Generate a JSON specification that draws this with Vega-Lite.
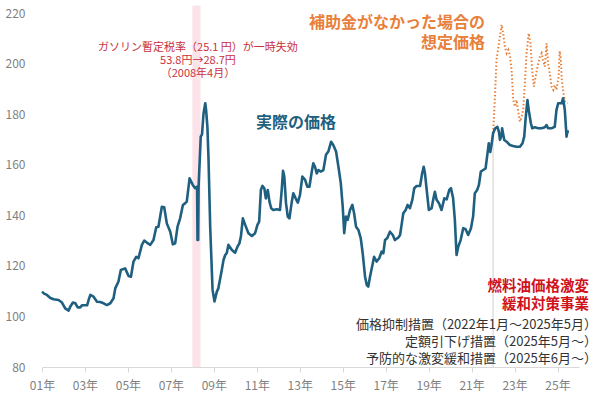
{
  "$schema": "https://vega.github.io/schema/vega-lite/v6.json",
  "width": 537,
  "height": 354,
  "autosize": "none",
  "padding": {"left": 42, "top": 13, "right": 21, "bottom": 30},
  "background": "white",
  "config": {
    "view": {"stroke": null},
    "font": "Noto Sans CJK JP",
    "text": {"font": "Noto Sans CJK JP"}
  },
  "data": {"values": [{}]},
  "datasets": {
    "actual": [
      {"year": 2001.0, "price": 109.8}, {"year": 2001.1, "price": 109.0}, {"year": 2001.23, "price": 108.5}, {"year": 2001.39, "price": 107.3},
      {"year": 2001.54, "price": 106.8}, {"year": 2001.77, "price": 106.5}, {"year": 2001.93, "price": 105.5}, {"year": 2002.08, "price": 103.2},
      {"year": 2002.24, "price": 102.3}, {"year": 2002.32, "price": 103.9}, {"year": 2002.44, "price": 105.5}, {"year": 2002.55, "price": 105.2},
      {"year": 2002.66, "price": 103.6}, {"year": 2002.78, "price": 103.6}, {"year": 2002.86, "price": 104.4}, {"year": 2003.1, "price": 104.4},
      {"year": 2003.17, "price": 106.5}, {"year": 2003.25, "price": 108.5}, {"year": 2003.4, "price": 107.8}, {"year": 2003.56, "price": 105.8},
      {"year": 2003.71, "price": 105.7}, {"year": 2003.87, "price": 105.2}, {"year": 2004.02, "price": 104.5}, {"year": 2004.18, "price": 105.2},
      {"year": 2004.33, "price": 107.2}, {"year": 2004.41, "price": 111.1}, {"year": 2004.56, "price": 113.8}, {"year": 2004.67, "price": 118.4},
      {"year": 2004.87, "price": 119.0}, {"year": 2005.03, "price": 116.0}, {"year": 2005.14, "price": 115.7}, {"year": 2005.26, "price": 121.7},
      {"year": 2005.39, "price": 123.6}, {"year": 2005.49, "price": 123.0}, {"year": 2005.65, "price": 128.3}, {"year": 2005.76, "price": 130.0},
      {"year": 2005.88, "price": 129.2}, {"year": 2006.04, "price": 128.3}, {"year": 2006.19, "price": 130.2}, {"year": 2006.32, "price": 135.3},
      {"year": 2006.42, "price": 135.5}, {"year": 2006.58, "price": 143.4}, {"year": 2006.69, "price": 143.2}, {"year": 2006.81, "price": 136.8},
      {"year": 2006.97, "price": 133.5}, {"year": 2007.09, "price": 128.5}, {"year": 2007.2, "price": 128.9}, {"year": 2007.31, "price": 135.5},
      {"year": 2007.43, "price": 138.8}, {"year": 2007.56, "price": 144.1}, {"year": 2007.67, "price": 144.8}, {"year": 2007.74, "price": 145.4},
      {"year": 2007.87, "price": 154.6}, {"year": 2008.02, "price": 152.0}, {"year": 2008.13, "price": 150.7}, {"year": 2008.22, "price": 151.3},
      {"year": 2008.24, "price": 130.2}, {"year": 2008.27, "price": 130.2}, {"year": 2008.29, "price": 151.3}, {"year": 2008.39, "price": 171.1},
      {"year": 2008.45, "price": 172.0}, {"year": 2008.52, "price": 180.3}, {"year": 2008.6, "price": 184.3}, {"year": 2008.64, "price": 181.6},
      {"year": 2008.7, "price": 175.0}, {"year": 2008.75, "price": 163.0}, {"year": 2008.83, "price": 135.5}, {"year": 2008.94, "price": 110.5},
      {"year": 2009.03, "price": 105.9}, {"year": 2009.14, "price": 109.8}, {"year": 2009.21, "price": 111.1}, {"year": 2009.37, "price": 118.4},
      {"year": 2009.45, "price": 122.3}, {"year": 2009.53, "price": 124.3}, {"year": 2009.6, "price": 125.0}, {"year": 2009.68, "price": 128.3},
      {"year": 2009.84, "price": 126.3}, {"year": 2009.99, "price": 125.2}, {"year": 2010.1, "price": 127.6}, {"year": 2010.19, "price": 128.9},
      {"year": 2010.26, "price": 131.6}, {"year": 2010.35, "price": 138.8}, {"year": 2010.46, "price": 136.2}, {"year": 2010.61, "price": 132.9},
      {"year": 2010.77, "price": 131.8}, {"year": 2010.92, "price": 132.9}, {"year": 2011.03, "price": 136.2}, {"year": 2011.11, "price": 137.5},
      {"year": 2011.19, "price": 150.0}, {"year": 2011.26, "price": 151.6}, {"year": 2011.35, "price": 150.7}, {"year": 2011.42, "price": 146.7},
      {"year": 2011.51, "price": 150.0}, {"year": 2011.59, "price": 145.4}, {"year": 2011.67, "price": 142.8}, {"year": 2011.77, "price": 142.1},
      {"year": 2011.93, "price": 142.4}, {"year": 2012.08, "price": 142.1}, {"year": 2012.16, "price": 150.0}, {"year": 2012.22, "price": 157.6},
      {"year": 2012.28, "price": 155.3}, {"year": 2012.36, "price": 144.8}, {"year": 2012.44, "price": 139.5}, {"year": 2012.52, "price": 138.8},
      {"year": 2012.63, "price": 145.4}, {"year": 2012.7, "price": 148.7}, {"year": 2012.81, "price": 146.7}, {"year": 2012.91, "price": 145.0},
      {"year": 2013.01, "price": 148.0}, {"year": 2013.12, "price": 155.3}, {"year": 2013.25, "price": 154.0}, {"year": 2013.35, "price": 151.3},
      {"year": 2013.45, "price": 151.3}, {"year": 2013.56, "price": 157.3}, {"year": 2013.63, "price": 160.6}, {"year": 2013.71, "price": 159.2},
      {"year": 2013.79, "price": 156.6}, {"year": 2013.87, "price": 157.9}, {"year": 2013.98, "price": 157.3}, {"year": 2014.1, "price": 157.9},
      {"year": 2014.22, "price": 163.9}, {"year": 2014.33, "price": 165.2}, {"year": 2014.46, "price": 169.1}, {"year": 2014.56, "price": 167.8},
      {"year": 2014.69, "price": 165.2}, {"year": 2014.8, "price": 159.2}, {"year": 2014.91, "price": 152.7}, {"year": 2015.0, "price": 143.4},
      {"year": 2015.07, "price": 132.9}, {"year": 2015.15, "price": 139.5}, {"year": 2015.23, "price": 138.2}, {"year": 2015.34, "price": 142.1},
      {"year": 2015.45, "price": 144.1}, {"year": 2015.53, "price": 140.8}, {"year": 2015.62, "price": 135.5}, {"year": 2015.73, "price": 134.2},
      {"year": 2015.84, "price": 130.9}, {"year": 2015.93, "price": 125.0}, {"year": 2016.04, "price": 115.7}, {"year": 2016.12, "price": 112.4},
      {"year": 2016.19, "price": 111.8}, {"year": 2016.27, "price": 115.7}, {"year": 2016.4, "price": 121.0}, {"year": 2016.46, "price": 123.6},
      {"year": 2016.58, "price": 121.7}, {"year": 2016.7, "price": 123.0}, {"year": 2016.81, "price": 125.6}, {"year": 2016.89, "price": 125.0},
      {"year": 2016.97, "price": 130.2}, {"year": 2017.07, "price": 130.9}, {"year": 2017.2, "price": 133.5}, {"year": 2017.33, "price": 132.2},
      {"year": 2017.43, "price": 130.2}, {"year": 2017.59, "price": 131.2}, {"year": 2017.67, "price": 132.2}, {"year": 2017.74, "price": 136.2},
      {"year": 2017.82, "price": 140.8}, {"year": 2017.93, "price": 142.1}, {"year": 2018.02, "price": 144.1}, {"year": 2018.13, "price": 142.8},
      {"year": 2018.24, "price": 146.1}, {"year": 2018.33, "price": 150.7}, {"year": 2018.44, "price": 151.6}, {"year": 2018.6, "price": 151.6},
      {"year": 2018.7, "price": 156.6}, {"year": 2018.77, "price": 159.2}, {"year": 2018.83, "price": 156.6}, {"year": 2018.91, "price": 150.0},
      {"year": 2019.01, "price": 142.1}, {"year": 2019.14, "price": 142.8}, {"year": 2019.21, "price": 146.1}, {"year": 2019.29, "price": 149.3},
      {"year": 2019.37, "price": 146.1}, {"year": 2019.48, "price": 144.8}, {"year": 2019.6, "price": 142.1}, {"year": 2019.73, "price": 146.7},
      {"year": 2019.84, "price": 146.3}, {"year": 2019.96, "price": 150.0}, {"year": 2020.04, "price": 150.7}, {"year": 2020.14, "price": 146.7},
      {"year": 2020.22, "price": 138.2}, {"year": 2020.3, "price": 124.3}, {"year": 2020.38, "price": 127.6}, {"year": 2020.49, "price": 130.2},
      {"year": 2020.61, "price": 134.9}, {"year": 2020.72, "price": 134.5}, {"year": 2020.84, "price": 132.2}, {"year": 2020.97, "price": 134.9},
      {"year": 2021.07, "price": 139.5}, {"year": 2021.15, "price": 148.7}, {"year": 2021.26, "price": 150.0}, {"year": 2021.34, "price": 152.0},
      {"year": 2021.43, "price": 157.3}, {"year": 2021.54, "price": 157.9}, {"year": 2021.65, "price": 158.5}, {"year": 2021.74, "price": 164.5},
      {"year": 2021.8, "price": 168.5}, {"year": 2021.87, "price": 165.0}, {"year": 2021.93, "price": 168.0}, {"year": 2022.0, "price": 172.4},
      {"year": 2022.1, "price": 174.4}, {"year": 2022.2, "price": 175.0}, {"year": 2022.27, "price": 173.1}, {"year": 2022.32, "price": 169.8},
      {"year": 2022.4, "price": 171.8}, {"year": 2022.42, "price": 174.4}, {"year": 2022.52, "price": 169.8}, {"year": 2022.63, "price": 169.1},
      {"year": 2022.78, "price": 167.8}, {"year": 2022.93, "price": 167.4}, {"year": 2023.09, "price": 167.1}, {"year": 2023.25, "price": 167.1},
      {"year": 2023.37, "price": 168.5}, {"year": 2023.45, "price": 171.1}, {"year": 2023.51, "price": 177.7}, {"year": 2023.6, "price": 185.6},
      {"year": 2023.66, "price": 181.6}, {"year": 2023.76, "price": 176.4}, {"year": 2023.82, "price": 174.4}, {"year": 2023.94, "price": 174.8},
      {"year": 2024.1, "price": 174.4}, {"year": 2024.26, "price": 174.4}, {"year": 2024.41, "price": 174.8}, {"year": 2024.49, "price": 175.7},
      {"year": 2024.56, "price": 174.4}, {"year": 2024.72, "price": 174.4}, {"year": 2024.87, "price": 175.0}, {"year": 2024.95, "price": 181.6},
      {"year": 2025.03, "price": 184.3}, {"year": 2025.19, "price": 184.3}, {"year": 2025.26, "price": 186.3}, {"year": 2025.34, "price": 181.6},
      {"year": 2025.39, "price": 175.0}, {"year": 2025.42, "price": 171.1}, {"year": 2025.46, "price": 173.1}, {"year": 2025.53, "price": 173.1}
    ],
    "assumed": [
      {"year": 2022.0, "price": 172.4}, {"year": 2022.08, "price": 185.6}, {"year": 2022.16, "price": 201.4}, {"year": 2022.27, "price": 208.0},
      {"year": 2022.4, "price": 215.3}, {"year": 2022.47, "price": 212.0}, {"year": 2022.55, "price": 206.7}, {"year": 2022.63, "price": 204.1},
      {"year": 2022.71, "price": 205.4}, {"year": 2022.78, "price": 203.4}, {"year": 2022.86, "price": 197.5}, {"year": 2022.94, "price": 185.6},
      {"year": 2023.02, "price": 183.0}, {"year": 2023.09, "price": 185.6}, {"year": 2023.17, "price": 181.0}, {"year": 2023.25, "price": 177.0},
      {"year": 2023.33, "price": 179.0}, {"year": 2023.4, "price": 181.6}, {"year": 2023.48, "price": 192.2}, {"year": 2023.56, "price": 204.1},
      {"year": 2023.66, "price": 212.0}, {"year": 2023.74, "price": 208.0}, {"year": 2023.82, "price": 197.5}, {"year": 2023.9, "price": 190.9},
      {"year": 2023.98, "price": 194.8}, {"year": 2024.07, "price": 198.8}, {"year": 2024.18, "price": 202.7}, {"year": 2024.26, "price": 204.1},
      {"year": 2024.33, "price": 201.4}, {"year": 2024.41, "price": 198.8}, {"year": 2024.49, "price": 208.0}, {"year": 2024.56, "price": 200.1},
      {"year": 2024.64, "price": 196.2}, {"year": 2024.72, "price": 190.9}, {"year": 2024.8, "price": 189.6}, {"year": 2024.87, "price": 191.5},
      {"year": 2024.95, "price": 189.6}, {"year": 2025.05, "price": 194.8}, {"year": 2025.1, "price": 205.0}, {"year": 2025.15, "price": 202.1},
      {"year": 2025.2, "price": 193.5}, {"year": 2025.28, "price": 188.2}, {"year": 2025.36, "price": 184.9}, {"year": 2025.48, "price": 184.3}
    ]
  },
  "layer": [
    {
      "mark": {"type": "rect", "color": "#fce3e9"},
      "encoding": {
        "x": {"datum": 2008.0, "type": "quantitative", "scale": {"domain": [2001, 2026], "nice": false, "zero": false}},
        "x2": {"datum": 2008.38},
        "y": {"datum": 80, "type": "quantitative", "scale": {"domain": [80, 220], "nice": false, "zero": false}},
        "y2": {"datum": 223}
      }
    },
    {
      "mark": {"type": "rule", "color": "#d0d0d0", "strokeWidth": 1},
      "encoding": {
        "x": {"datum": 2022.0, "type": "quantitative"},
        "y": {"datum": 80, "type": "quantitative"},
        "y2": {"datum": 172}
      }
    },
    {
      "data": {"name": "assumed"},
      "mark": {"type": "line", "color": "#e8803a", "strokeWidth": 2, "strokeDash": [1.5, 2.2]},
      "encoding": {
        "x": {"field": "year", "type": "quantitative"},
        "y": {"field": "price", "type": "quantitative"}
      }
    },
    {
      "data": {"name": "actual"},
      "mark": {"type": "line", "color": "#1f5f80", "strokeWidth": 2.6, "strokeJoin": "round"},
      "encoding": {
        "x": {
          "field": "year", "type": "quantitative",
          "axis": {
            "title": null, "grid": false,
            "values": [2001, 2003, 2005, 2007, 2009, 2011, 2013, 2015, 2017, 2019, 2021, 2023, 2025],
            "labelExpr": "(datum.value % 100 < 10 ? '0' : '') + (datum.value % 100) + '年'",
            "domainColor": "#d9d9d9", "tickColor": "#d9d9d9", "tickSize": 5,
            "labelColor": "#7f7f7f", "labelFontSize": 12, "labelPadding": 8,
            "labelFont": "Noto Sans CJK JP", "labelFlush": false
          }
        },
        "y": {
          "field": "price", "type": "quantitative",
          "axis": {
            "title": null, "grid": false, "domain": false, "ticks": false,
            "values": [80, 100, 120, 140, 160, 180, 200, 220],
            "labelColor": "#7f7f7f", "labelFontSize": 12, "labelPadding": 17,
            "labelFont": "Noto Sans CJK JP"
          }
        }
      }
    },
    {
      "mark": {"type": "text", "align": "center", "baseline": "alphabetic", "fontSize": 11, "lineHeight": 13.3, "color": "#c8313e"},
      "encoding": {
        "x": {"datum": 2008.26, "type": "quantitative"},
        "y": {"datum": 205.1, "type": "quantitative"},
        "text": {"value": ["ガソリン暫定税率（25.1 円）が一時失効", "53.8円→28.7円", "（2008年4月）"]}
      }
    },
    {
      "mark": {"type": "text", "align": "right", "baseline": "alphabetic", "fontSize": 16, "fontWeight": "bold", "lineHeight": 20, "color": "#e8803a"},
      "encoding": {
        "x": {"datum": 2021.62, "type": "quantitative"},
        "y": {"datum": 214.2, "type": "quantitative"},
        "text": {"value": ["補助金がなかった場合の", "想定価格"]}
      }
    },
    {
      "mark": {"type": "text", "align": "center", "baseline": "alphabetic", "fontSize": 16, "fontWeight": "bold", "color": "#1f5f80"},
      "encoding": {
        "x": {"datum": 2012.83, "type": "quantitative"},
        "y": {"datum": 174.6, "type": "quantitative"},
        "text": {"value": "実際の価格"}
      }
    },
    {
      "mark": {"type": "text", "align": "right", "baseline": "alphabetic", "fontSize": 14.5, "fontWeight": "bold", "lineHeight": 18, "color": "#d0121b"},
      "encoding": {
        "x": {"datum": 2026.47, "type": "quantitative"},
        "y": {"datum": 109.9, "type": "quantitative"},
        "text": {"value": ["燃料油価格激変", "緩和対策事業"]}
      }
    },
    {
      "mark": {"type": "text", "align": "right", "baseline": "alphabetic", "fontSize": 13, "lineHeight": 16.7, "color": "#333333"},
      "encoding": {
        "x": {"datum": 2026.84, "type": "quantitative"},
        "y": {"datum": 94.85, "type": "quantitative"},
        "text": {"value": ["価格抑制措置（2022年1月～2025年5月）", "定額引下げ措置（2025年5月～）", "予防的な激変緩和措置（2025年6月～）"]}
      }
    }
  ]
}
